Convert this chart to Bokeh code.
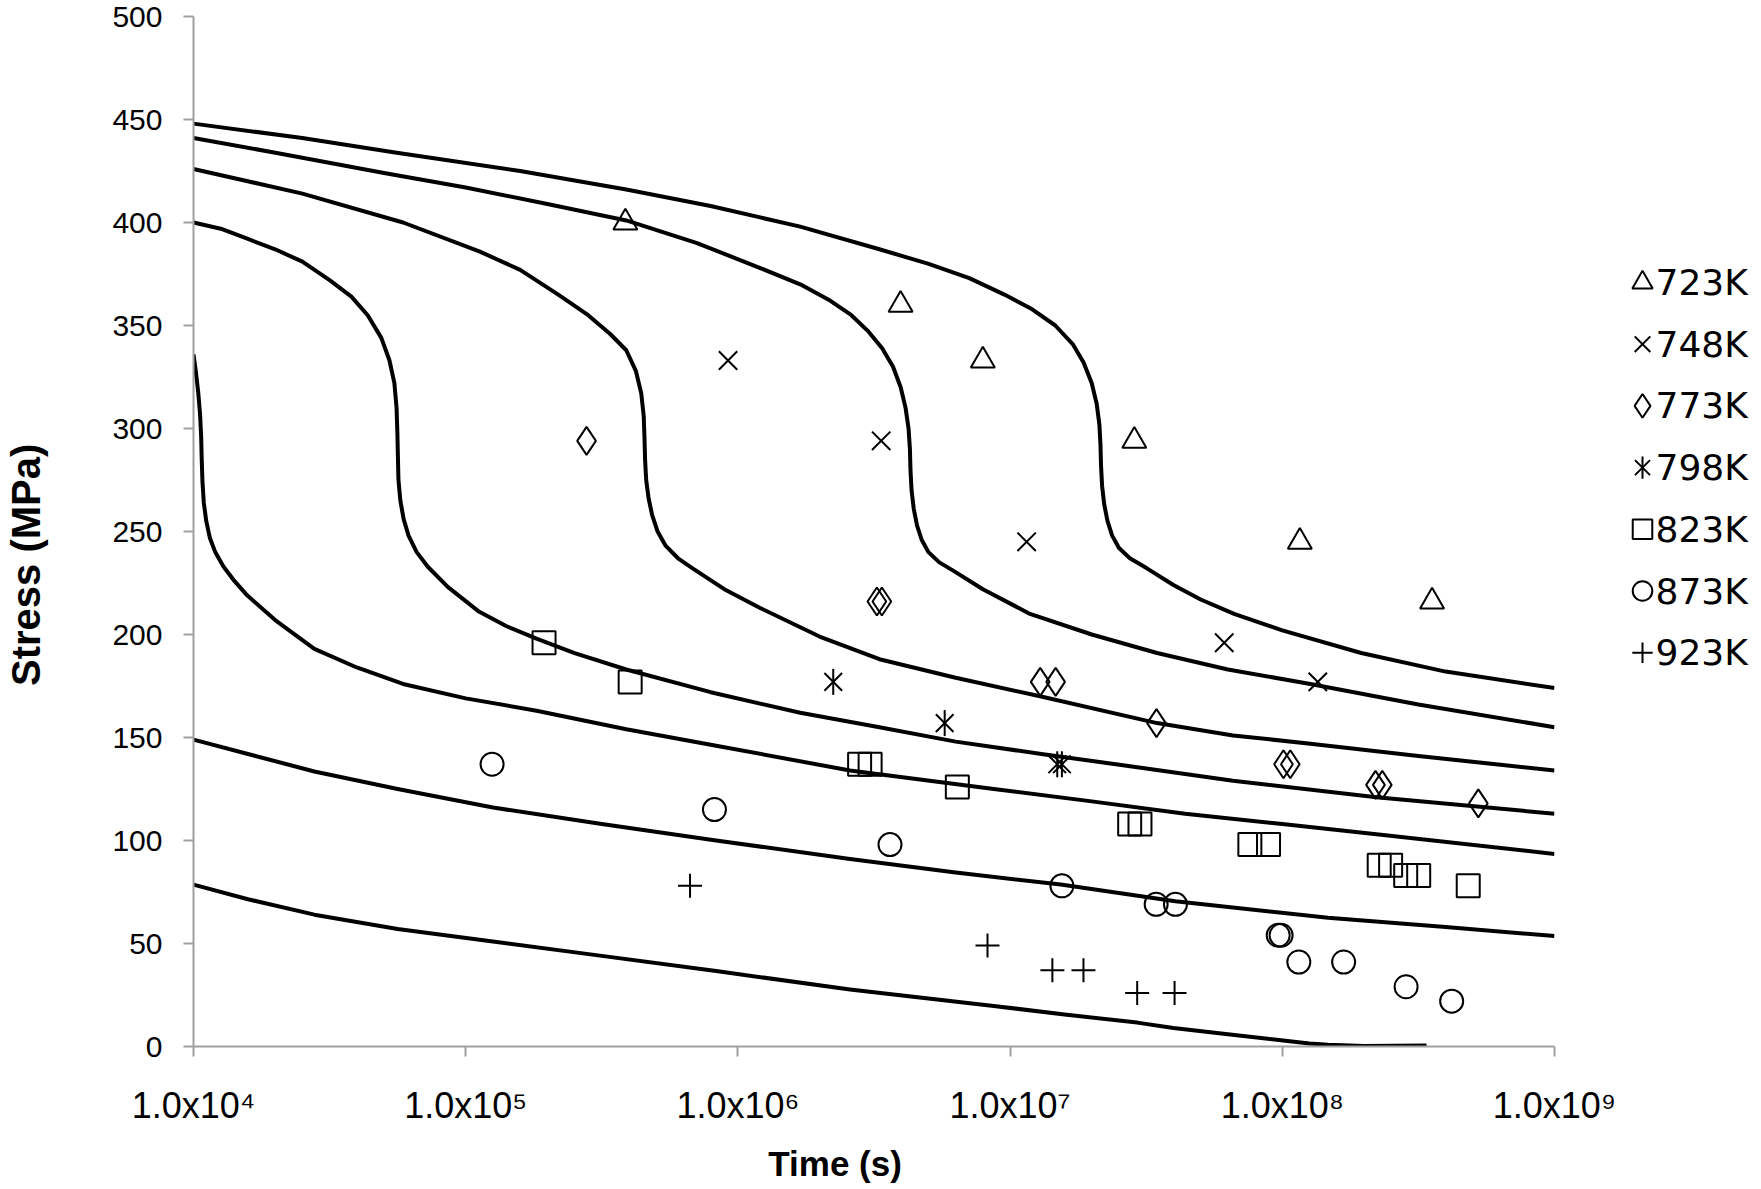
import numpy as np
from bokeh.plotting import figure
from bokeh.layouts import row
from bokeh.models import Range1d, FixedTicker
from bokeh.embed import file_html
from bokeh.resources import INLINE
from bokeh.core.properties import value

# ---------------- data ----------------
temps = ["723K", "748K", "773K", "798K", "823K", "873K", "923K"]

# experimental rupture points: time (s), stress (MPa)
t_723 = [3.86e5, 3.96e6, 7.94e6, 2.86e7, 1.16e8, 3.55e8]
s_723 = [400, 360, 333, 294, 245, 216]

t_748 = [9.2e5, 3.36e6, 1.15e7, 6.12e7, 1.35e8]
s_748 = [333, 294, 245, 196, 177]

t_773 = [2.78e5, 3.24e6, 3.38e6, 1.29e7, 1.47e7, 3.45e7, 1.01e8, 1.07e8, 2.2e8, 2.33e8, 5.25e8]
s_773 = [294, 216, 216, 177, 177, 157, 137, 137, 127, 127, 118]

t_798 = [2.24e6, 5.75e6, 1.49e7, 1.55e7]
s_798 = [177, 157, 137, 137]

t_823 = [1.94e5, 4.02e5, 2.8e6, 3.06e6, 6.4e6, 2.75e7, 3.0e7, 7.6e7, 8.9e7, 2.27e8, 2.5e8, 2.84e8, 3.17e8, 4.82e8]
s_823 = [196, 177, 137, 137, 126, 108, 108, 98, 98, 88, 88, 83, 83, 78]

t_873 = [1.25e5, 8.2e5, 3.62e6, 1.55e7, 3.44e7, 4.05e7, 9.66e7, 9.9e7, 1.15e8, 1.68e8, 2.85e8, 4.19e8]
s_873 = [137, 115, 98, 78, 69, 69, 54, 54, 41, 41, 29, 22]

t_923 = [6.67e5, 8.26e6, 1.43e7, 1.86e7, 2.93e7, 4.02e7]
s_923 = [78, 49, 37, 37, 26, 26]

# model curves: time (s), stress (MPa)
ct_723 = [1.0e4, 2.51e4, 5.5e4, 1.585e5, 3.89e5, 7.94e5, 1.694e6, 3.31e6, 4.99e6, 7.08e6, 9.53e6,
          1.202e7, 1.466e7, 1.698e7, 1.862e7, 1.995e7, 2.08e7, 2.128e7, 2.148e7, 2.158e7, 2.178e7,
          2.218e7, 2.28e7, 2.371e7, 2.512e7, 2.754e7, 3.192e7, 3.981e7, 5.012e7, 6.653e7, 1.0e8,
          1.95e8, 3.981e8, 1.0e9]
cs_723 = [448, 441, 434, 425, 416, 408, 398, 387, 380, 373, 365,
          358, 350, 341, 332, 322, 312, 302, 292, 282, 272,
          263, 255, 248, 242, 237, 232, 224, 217, 210, 202,
          191, 182, 174]

ct_748 = [1.0e4, 1.977e4, 5.012e4, 1.0e5, 1.995e5, 3.89e5, 7.079e5, 1.202e6, 1.694e6, 2.188e6, 2.612e6,
          3.02e6, 3.388e6, 3.715e6, 3.963e6, 4.13e6, 4.236e6, 4.285e6, 4.305e6, 4.345e6, 4.426e6,
          4.55e6, 4.732e6, 5.012e6, 5.495e6, 6.18e6, 7.943e6, 1.183e7, 1.995e7, 3.467e7, 6.31e7,
          1.268e8, 3.162e8, 1.0e9]
cs_748 = [441, 434, 424, 417, 409, 401, 390, 378, 370, 362, 355,
          347, 339, 330, 320, 310, 300, 290, 280, 270, 261,
          253, 246, 240, 235, 231, 222, 210, 200, 191, 183,
          176, 166, 155]

ct_773 = [1.0e4, 2.512e4, 5.888e4, 1.122e5, 1.585e5, 2.188e5, 2.818e5, 3.388e5, 3.89e5, 4.217e5, 4.416e5,
          4.508e5, 4.539e5, 4.56e5, 4.603e5, 4.699e5, 4.842e5, 5.07e5, 5.433e5, 6.026e5, 6.839e5,
          8.913e5, 1.202e6, 1.995e6, 3.311e6, 6.31e6, 1.288e7, 3.467e7, 6.592e7, 1.268e8, 3.162e8, 1.0e9]
cs_773 = [426, 414, 400, 386, 377, 365, 355, 346, 338, 328, 317,
          306, 295, 285, 275, 266, 258, 250, 243, 237, 232,
          222, 213, 199, 188, 179, 170, 157, 151, 147, 141, 134]

ct_798 = [1.0e4, 1.259e4, 1.585e4, 1.995e4, 2.512e4, 3.162e4, 3.802e4, 4.365e4, 4.898e4, 5.248e4, 5.47e4,
          5.572e4, 5.61e4, 5.636e4, 5.662e4, 5.754e4, 5.916e4, 6.166e4, 6.607e4, 7.244e4, 8.61e4,
          1.122e5, 1.413e5, 1.82e5, 2.512e5, 3.89e5, 7.943e5, 1.694e6, 3.311e6, 6.31e6, 1.303e7,
          3.162e7, 6.592e7, 2.218e8, 1.0e9]
cs_798 = [400, 397, 392, 387, 381, 372, 364, 355, 344, 333, 322,
          310, 298, 286, 275, 265, 256, 248, 240, 233, 223,
          211, 204, 198, 191, 183, 172, 162, 155, 148, 142,
          135, 129, 121, 113]

ct_823 = [1.0e4, 1.019e4, 1.04e4, 1.057e4, 1.067e4, 1.072e4, 1.079e4, 1.091e4, 1.114e4, 1.148e4, 1.202e4,
          1.288e4, 1.413e4, 1.574e4, 1.995e4, 2.78e4, 3.981e4, 5.888e4, 1.0e5, 1.82e5, 3.89e5,
          8.318e5, 2.582e6, 8.71e6, 1.995e7, 4.395e7, 1.0e8, 2.218e8, 1.0e9]
cs_823 = [336, 328, 318, 307, 296, 285, 274, 264, 255, 247, 240,
          233, 226, 219, 207, 193, 184, 176, 169, 163, 154,
          146, 134, 125, 119, 113, 108, 103, 93.5]

ct_873 = [1.0e4, 1.585e4, 2.78e4, 5.623e4, 1.259e5, 3.162e5, 8.318e5, 2.582e6, 6.31e6, 1.535e7,
          4.046e7, 1.472e8, 3.981e8, 1.0e9]
cs_873 = [149, 142, 133.5, 125, 116, 108, 100, 91, 84.5, 78.6,
          70.5, 62.5, 58, 53.6]

ct_923 = [1.0e4, 1.585e4, 2.78e4, 5.623e4, 1.259e5, 3.162e5, 8.318e5, 2.582e6, 8.71e6, 1.585e7,
          2.931e7, 3.981e7, 6.31e7, 9.886e7, 1.259e8, 1.472e8, 1.995e8, 3.388e8]
cs_923 = [78.6, 71.5, 64, 57, 51, 44, 36.6, 27.7, 19.7, 15.5,
          11.6, 9, 6, 3, 1.5, 0.8, 0.3, 0.5]

x_ticks = [1e4, 1e5, 1e6, 1e7, 1e8, 1e9]
x_tick_labels = ["1.0x10\u2074", "1.0x10\u2075", "1.0x10\u2076", "1.0x10\u2077", "1.0x10\u2078", "1.0x10\u2079"]
y_ticks = [0, 50, 100, 150, 200, 250, 300, 350, 400, 450, 500]

# ---------------- main figure ----------------
AX = "#A0A0A0"
H = 1187
TOP = 16
BOT = 1046
PW = 1619
p = figure(width=PW, height=H, x_axis_type="log",
           x_range=Range1d(1e4, 1e9), y_range=Range1d(0, 500),
           output_backend="svg", toolbar_location=None,
           min_border_left=193, min_border_right=PW - 1554,
           min_border_top=TOP, min_border_bottom=H - BOT)
p.grid.visible = False
p.outline_line_color = None
p.background_fill_color = "white"
p.border_fill_color = "white"

for ax in (p.xaxis[0], p.yaxis[0]):
    ax.axis_line_color = AX
    ax.axis_line_width = 2
    ax.major_tick_line_color = AX
    ax.major_tick_line_width = 2
    ax.major_tick_out = 10
    ax.major_tick_in = 0
    ax.minor_tick_line_color = None
    ax.major_label_text_color = "black"
    ax.axis_label_text_color = "black"
    ax.axis_label_text_font = "Liberation Sans"
    ax.axis_label_text_font_style = "bold"

NB = "\u00a0"
p.xaxis.ticker = FixedTicker(ticks=x_ticks)
p.xaxis.major_label_overrides = dict(zip(x_ticks, x_tick_labels))
p.xaxis.major_label_text_font = "Liberation Sans"
p.xaxis.major_label_text_font_size = "36px"
p.xaxis.major_label_standoff = 28
p.xaxis.axis_label = "Time (s)" + NB * 8
p.xaxis.axis_label_text_font_size = "35px"
p.xaxis.axis_label_standoff = 15

p.yaxis.ticker = FixedTicker(ticks=y_ticks)
p.yaxis.major_label_text_font = "Liberation Sans"
p.yaxis.major_label_text_font_size = "30px"
p.yaxis.major_label_standoff = 21
p.yaxis.axis_label = "Stress (MPa)" + NB * 6
p.yaxis.axis_label_text_font_size = "40px"
p.yaxis.axis_label_standoff = 61

# curves
for ct, cs in [(ct_723, cs_723), (ct_748, cs_748), (ct_773, cs_773), (ct_798, cs_798),
               (ct_823, cs_823), (ct_873, cs_873), (ct_923, cs_923)]:
    p.line(ct, cs, line_color="black", line_width=4, line_join="round")

# markers
mk = dict(fill_color=None, line_color="black", line_width=2)
styles = [("triangle", 24), ("x", 26), ("diamond", 28), ("x", 25), ("square", 23), ("circle", 23), ("cross", 24)]
series = [(t_723, s_723), (t_748, s_748), (t_773, s_773), (t_798, s_798),
          (t_823, s_823), (t_873, s_873), (t_923, s_923)]
for (mname, msize), (tt, ss) in zip(styles, series):
    p.scatter(tt, ss, marker=mname, size=msize, **mk)
# the 798K symbol is an x with a vertical bar
p.scatter(t_798, s_798, marker="dash", angle=np.pi / 2, size=26, **mk)

# ---------------- legend panel ----------------
LW = 1757 - PW
leg = figure(width=LW, height=H, x_range=Range1d(0, LW), y_range=Range1d(BOT, TOP),
             output_backend="svg", toolbar_location=None,
             x_axis_location=None, y_axis_location=None,
             min_border_left=0, min_border_right=0,
             min_border_top=TOP, min_border_bottom=H - BOT)
leg.grid.visible = False
leg.outline_line_color = None
leg.background_fill_color = "white"
leg.border_fill_color = "white"

row_y = [282 + 61.7 * i for i in range(len(temps))]
for (mname, msize), yy in zip(styles, row_y):
    leg.scatter([23], [yy], marker=mname, size=msize * 0.85, **mk)
leg.scatter([23], [row_y[3]], marker="dash", angle=np.pi / 2, size=26 * 0.85, **mk)
leg.text(x=[36] * len(temps), y=row_y, text=temps, text_font=value("DejaVu Sans"),
         text_font_size="36px", text_baseline="middle", text_align="left", text_color="black")

layout = row(p, leg, spacing=0)
open("out.html", "w").write(file_html(layout, INLINE))
